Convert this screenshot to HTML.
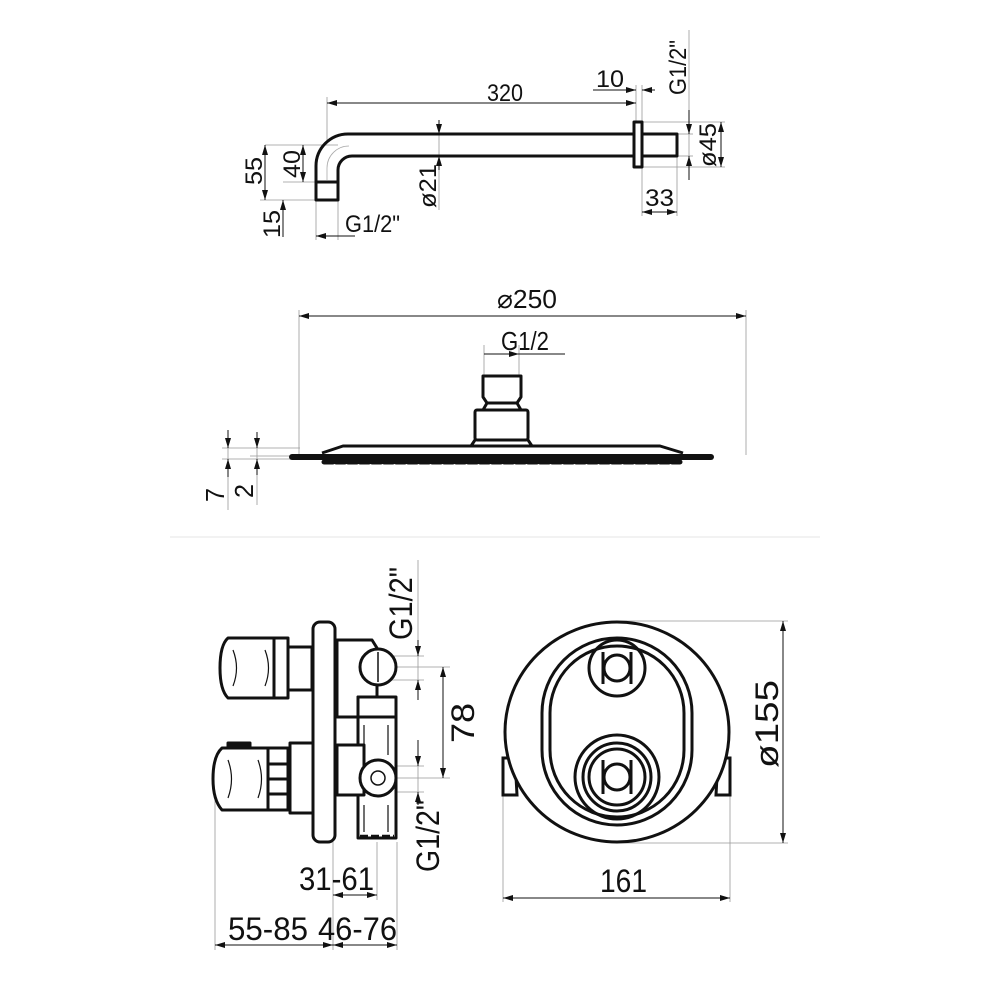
<!DOCTYPE html>
<html><head><meta charset="utf-8"><style>
html,body{margin:0;padding:0;background:#fff;}
svg{display:block;}
text{font-family:"Liberation Sans",sans-serif;fill:#111;}
</style></head><body>
<svg width="1000" height="1000" viewBox="0 0 1000 1000" xmlns="http://www.w3.org/2000/svg">
<defs>
<marker id="a" viewBox="0 0 10 6" refX="10" refY="3" markerWidth="10" markerHeight="6" orient="auto-start-reverse" markerUnits="userSpaceOnUse"><path d="M0,0 L10,3 L0,6 z" fill="#111"/></marker>
</defs>
<g stroke="#999" stroke-width="0.8" fill="none">
<line x1="327" y1="97" x2="327" y2="140"/><line x1="636" y1="85" x2="636" y2="122"/><line x1="642" y1="85" x2="642" y2="216"/>
<line x1="677" y1="156" x2="677" y2="216"/><line x1="689" y1="30" x2="689" y2="160"/>
<line x1="677" y1="134" x2="693" y2="134"/><line x1="677" y1="156" x2="693" y2="156"/>
<line x1="642" y1="122" x2="725" y2="122"/><line x1="642" y1="167" x2="725" y2="167"/>
<line x1="265" y1="145" x2="338" y2="145"/><line x1="283" y1="182" x2="316" y2="182"/>
<line x1="260" y1="200" x2="316" y2="200"/><line x1="316" y1="200" x2="316" y2="240"/><line x1="338" y1="200" x2="338" y2="240"/>
<line x1="439" y1="120" x2="439" y2="210"/>
<line x1="299" y1="310" x2="299" y2="455"/><line x1="746" y1="310" x2="746" y2="455"/>
<line x1="484" y1="345" x2="484" y2="376"/><line x1="519" y1="345" x2="519" y2="376"/>
<line x1="222" y1="448" x2="300" y2="448"/><line x1="222" y1="459" x2="290" y2="459"/><line x1="250" y1="456" x2="290" y2="456"/>
<line x1="228" y1="430" x2="228" y2="510"/><line x1="257" y1="432" x2="257" y2="505"/>
<line x1="170" y1="537" x2="820" y2="537" stroke="#ddd"/>
<line x1="378" y1="656" x2="424" y2="656"/><line x1="378" y1="667" x2="450" y2="667"/><line x1="378" y1="680" x2="424" y2="680"/>
<line x1="378" y1="766" x2="424" y2="766"/><line x1="378" y1="778" x2="450" y2="778"/><line x1="378" y1="792" x2="424" y2="792"/>
<line x1="418" y1="560" x2="418" y2="700"/><line x1="418" y1="740" x2="418" y2="805"/>
<line x1="215" y1="800" x2="215" y2="950"/><line x1="333" y1="842" x2="333" y2="950"/><line x1="377" y1="842" x2="377" y2="900"/><line x1="397" y1="842" x2="397" y2="950"/>
<line x1="617" y1="621" x2="788" y2="621"/><line x1="617" y1="843" x2="788" y2="843"/>
<line x1="503" y1="795" x2="503" y2="902"/><line x1="730" y1="795" x2="730" y2="902"/>
</g>
<g stroke="#111" stroke-width="1" fill="none">
<line x1="327" y1="103" x2="636" y2="103" marker-start="url(#a)" marker-end="url(#a)"/>
<line x1="593" y1="90" x2="636" y2="90" marker-end="url(#a)"/><line x1="655" y1="90" x2="642" y2="90" marker-end="url(#a)"/>
<line x1="689" y1="110" x2="689" y2="134" marker-end="url(#a)"/><line x1="689" y1="180" x2="689" y2="156" marker-end="url(#a)"/>
<line x1="721" y1="122" x2="721" y2="167" marker-start="url(#a)" marker-end="url(#a)"/>
<line x1="642" y1="212" x2="677" y2="212" marker-start="url(#a)" marker-end="url(#a)"/>
<line x1="439" y1="120" x2="439" y2="134" marker-end="url(#a)"/><line x1="439" y1="170" x2="439" y2="156" marker-end="url(#a)"/>
<line x1="265" y1="145" x2="265" y2="200" marker-start="url(#a)" marker-end="url(#a)"/>
<line x1="303" y1="145" x2="303" y2="182" marker-start="url(#a)" marker-end="url(#a)"/>
<line x1="283" y1="237" x2="283" y2="200" marker-end="url(#a)"/>
<line x1="316" y1="236" x2="355" y2="236" marker-start="url(#a)"/>
<line x1="299" y1="316" x2="746" y2="316" marker-start="url(#a)" marker-end="url(#a)"/>
<line x1="484" y1="354" x2="565" y2="354"/><line x1="505" y1="354" x2="519" y2="354" marker-end="url(#a)"/>
<line x1="228" y1="430" x2="228" y2="448" marker-end="url(#a)"/><line x1="228" y1="477" x2="228" y2="459" marker-end="url(#a)"/>
<line x1="257" y1="432" x2="257" y2="448" marker-end="url(#a)"/><line x1="257" y1="475" x2="257" y2="459" marker-end="url(#a)"/>
<line x1="418" y1="640" x2="418" y2="656" marker-end="url(#a)"/><line x1="418" y1="700" x2="418" y2="680" marker-end="url(#a)"/>
<line x1="418" y1="740" x2="418" y2="766" marker-end="url(#a)"/><line x1="418" y1="805" x2="418" y2="792" marker-end="url(#a)"/>
<line x1="443" y1="667" x2="443" y2="778" marker-start="url(#a)" marker-end="url(#a)"/>
<line x1="333" y1="895" x2="377" y2="895" marker-start="url(#a)" marker-end="url(#a)"/>
<line x1="215" y1="945" x2="333" y2="945" marker-start="url(#a)" marker-end="url(#a)"/>
<line x1="333" y1="945" x2="397" y2="945" marker-start="url(#a)" marker-end="url(#a)"/>
<line x1="783" y1="621" x2="783" y2="843" marker-start="url(#a)" marker-end="url(#a)"/>
<line x1="503" y1="898" x2="730" y2="898" marker-start="url(#a)" marker-end="url(#a)"/>
</g>
<g stroke="#111" stroke-width="3" fill="none" stroke-linejoin="round">
<path d="M316,182 L316,166 A32,32 0 0 1 348,134 L634,134"/>
<path d="M338,182 L338,170 A14,14 0 0 1 352,156 L634,156"/>
<rect x="316" y="182" width="22" height="18"/>
<rect x="634" y="122" width="8" height="45"/>
<rect x="642" y="134" width="35" height="22"/>
</g>
<path d="M327,180 L327,168 A22,22 0 0 1 349,146" stroke="#aaa" stroke-width="0.8" fill="none"/>
<g stroke="#111" stroke-width="3" fill="none" stroke-linejoin="round">
<path d="M483,376 L521,376 L521,397 L517,403 L487,403 L483,397 Z"/>
<rect x="475" y="410" width="53" height="30" rx="2"/>
<path d="M487,403 L483,410 M517,403 L521,410"/>
<path d="M475,440 L471,446 M528,440 L532,446"/>
<path d="M322,453 L343,446 L660,446 L683,453"/>
</g>
<line x1="292" y1="457" x2="711" y2="457" stroke="#111" stroke-width="6" stroke-linecap="round"/>
<line x1="324" y1="462" x2="680" y2="462" stroke="#111" stroke-width="5" stroke-linecap="round" stroke-dasharray="9 3"/>
<g stroke="#111" stroke-width="3" fill="#fff" stroke-linejoin="round">
<rect x="313" y="622" width="22" height="220" rx="7"/>
<rect x="288" y="647" width="24" height="43"/>
<path d="M228,638 L288,638 L288,698 L228,698 Q220,690 220,668 Q220,645 228,638 Z"/>
<line x1="274" y1="638" x2="274" y2="698"/>
<path d="M337,640 L372,640 L377,648 L377,697 L358,697 L358,717 L337,717 Z"/>
<rect x="358" y="697" width="38" height="20"/>
<circle cx="378" cy="667" r="18"/>
<line x1="378" y1="652" x2="378" y2="682" stroke-width="1.5"/>
<rect x="358" y="717" width="38" height="121"/>
<rect x="290" y="743" width="23" height="70"/>
<path d="M222,748 L288,748 L288,810 L222,810 Q213,800 213,779 Q213,756 222,748 Z"/>
<rect x="228" y="743" width="22" height="5" fill="#111"/>
<line x1="268" y1="748" x2="268" y2="810"/>
<rect x="337" y="745" width="27" height="50"/>
<circle cx="378" cy="778" r="18"/>
<circle cx="378" cy="778" r="7" stroke-width="1.5"/>
</g>
<g stroke="#111" stroke-width="1.2" fill="none">
<path d="M233,650 Q240,668 233,686 M265,650 Q272,668 265,686"/>
<path d="M228,760 Q235,779 228,798 M258,760 Q265,779 258,798"/>
<line x1="268" y1="764" x2="288" y2="764" stroke-width="3"/><line x1="268" y1="779" x2="288" y2="779" stroke-width="3"/><line x1="268" y1="794" x2="288" y2="794" stroke-width="3"/>
<line x1="364" y1="725" x2="364" y2="755"/><line x1="388" y1="725" x2="388" y2="755"/>
<line x1="364" y1="805" x2="364" y2="832"/><line x1="388" y1="805" x2="388" y2="832"/>
<line x1="360" y1="836" x2="394" y2="836" stroke-width="2.5" stroke-dasharray="8 3"/>
</g>
<g stroke="#111" stroke-width="3" fill="none">
<path d="M503,758 L515,758 L517,795 L503,795 Z" fill="#fff"/>
<path d="M730,758 L718,758 L716,795 L730,795 Z" fill="#fff"/>
<ellipse cx="617" cy="732" rx="112" ry="110" fill="#fff"/>
<rect x="542" y="638" width="150" height="187" rx="75"/>
<rect x="550" y="646" width="134" height="171" rx="67"/>
<circle cx="617" cy="668" r="28"/>
<circle cx="617" cy="668" r="13"/>
<line x1="603" y1="652" x2="603" y2="684"/><line x1="631" y1="652" x2="631" y2="684"/>
<circle cx="617" cy="777" r="42"/>
<circle cx="617" cy="777" r="34"/>
<circle cx="617" cy="777" r="28"/>
<circle cx="617" cy="777" r="13"/>
<line x1="603" y1="760" x2="603" y2="794"/><line x1="631" y1="760" x2="631" y2="794"/>
</g>
<g font-size="24">
<text x="487" y="101" textLength="36" lengthAdjust="spacingAndGlyphs">320</text>
<text x="596" y="87" textLength="28" lengthAdjust="spacingAndGlyphs">10</text>
<text x="645" y="206" textLength="29" lengthAdjust="spacingAndGlyphs">33</text>
<text x="345" y="232" textLength="55" lengthAdjust="spacingAndGlyphs">G1/2"</text>
<text transform="translate(686,95) rotate(-90)" textLength="55" lengthAdjust="spacingAndGlyphs">G1/2"</text>
<text transform="translate(716,167) rotate(-90)" textLength="44" lengthAdjust="spacingAndGlyphs">ø45</text>
<text transform="translate(436,208) rotate(-90)" textLength="44" lengthAdjust="spacingAndGlyphs">ø21</text>
<text transform="translate(262,185) rotate(-90)" textLength="28" lengthAdjust="spacingAndGlyphs">55</text>
<text transform="translate(300,178) rotate(-90)" textLength="28" lengthAdjust="spacingAndGlyphs">40</text>
<text transform="translate(280,238) rotate(-90)" textLength="28" lengthAdjust="spacingAndGlyphs">15</text>
</g>
<g font-size="26">
<text x="497" y="308" textLength="60" lengthAdjust="spacingAndGlyphs">⌀250</text>
<text x="501" y="350" textLength="48" lengthAdjust="spacingAndGlyphs">G1/2</text>
<text transform="translate(224,502) rotate(-90)" textLength="14" lengthAdjust="spacingAndGlyphs">7</text>
<text transform="translate(253,498) rotate(-90)" textLength="14" lengthAdjust="spacingAndGlyphs">2</text>
</g>
<g font-size="32">
<text transform="translate(412,640) rotate(-90)" textLength="73" lengthAdjust="spacingAndGlyphs">G1/2"</text>
<text transform="translate(439,872) rotate(-90)" textLength="72" lengthAdjust="spacingAndGlyphs">G1/2"</text>
<text transform="translate(474,743) rotate(-90)" textLength="40" lengthAdjust="spacingAndGlyphs">78</text>
<text x="299" y="890" textLength="75" lengthAdjust="spacingAndGlyphs">31-61</text>
<text x="228" y="940" textLength="80" lengthAdjust="spacingAndGlyphs">55-85</text>
<text x="318" y="940" textLength="79" lengthAdjust="spacingAndGlyphs">46-76</text>
<text x="600" y="892" textLength="47" lengthAdjust="spacingAndGlyphs">161</text>
<text transform="translate(778,768) rotate(-90)" textLength="88" lengthAdjust="spacingAndGlyphs">ø155</text>
</g>
</svg>
</body></html>
